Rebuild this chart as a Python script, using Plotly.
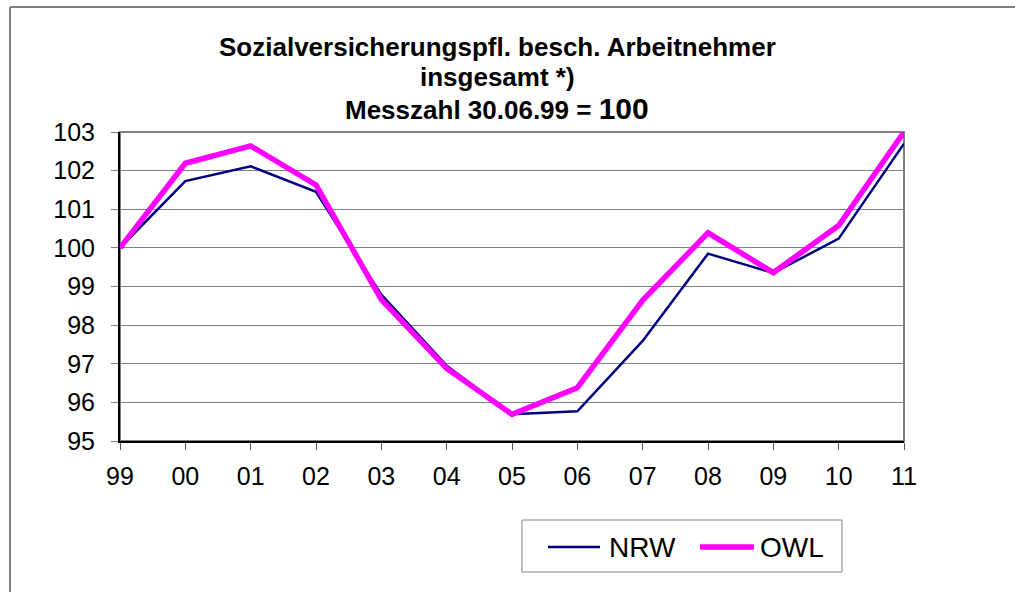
import plotly.graph_objects as go

years = ["99", "00", "01", "02", "03", "04", "05", "06", "07", "08", "09", "10", "11"]
nrw = [100.0, 101.73, 102.11, 101.45, 98.79, 96.95, 95.69, 95.77, 97.59, 99.85, 99.35, 100.24, 102.70]
owl = [100.0, 102.19, 102.64, 101.63, 98.66, 96.88, 95.69, 96.38, 98.64, 100.39, 99.36, 100.58, 103.0]
y_ticks = [95, 96, 97, 98, 99, 100, 101, 102, 103]
series_names = ["NRW", "OWL"]
series_colors = ["#000080", "#FF00FF"]
series_widths = [2.5, 5.5]

title_lines = ["Sozialversicherungspfl. besch. Arbeitnehmer",
               "insgesamt *)",
               "Messzahl 30.06.99 = <span style='font-size:30px'>100</span>"]

W, H = 1015, 592
L, R, T, B = 120, 904, 132, 441
FONT = "Liberation Sans, Arial, sans-serif"

fig = go.Figure()
for name, vals, col, wd in zip(series_names, [nrw, owl], series_colors, series_widths):
    fig.add_trace(go.Scatter(x=years, y=vals, mode="lines", name=name,
                             line=dict(color=col, width=wd), showlegend=False,
                             hoverinfo="skip"))

def py(p):
    return (B - p) / (B - T)

def px(p):
    return (p - L) / (R - L)

annotations = []
for txt, yc in zip(title_lines, [47, 77, 108]):
    annotations.append(dict(text="<b>" + txt + "</b>", xref="paper", yref="paper",
                            x=px(497), y=py(yc), xanchor="center", yanchor="middle",
                            showarrow=False, font=dict(family=FONT, size=26, color="black")))

shapes = [
    # outer chart frame (top and left edges visible)
    dict(type="line", xref="paper", yref="paper", x0=px(10), x1=px(W), y0=py(7), y1=py(7),
         line=dict(color="#808080", width=2), layer="below"),
    dict(type="line", xref="paper", yref="paper", x0=px(10), x1=px(10), y0=py(7), y1=py(H),
         line=dict(color="#808080", width=2), layer="below"),
    # plot area frame
    dict(type="rect", xref="paper", yref="paper", x0=0, x1=1, y0=0, y1=1,
         line=dict(color="#808080", width=2), layer="below"),
    # legend box
    dict(type="rect", xref="paper", yref="paper", x0=px(522), x1=px(842), y0=py(520), y1=py(572),
         line=dict(color="#808080", width=1), fillcolor="white", layer="above"),
]

# legend entries
leg_y = 547
leg_items = [(548, 600, 607), (700, 754, 758)]
for (lx0, lx1, tx), name, col, wd in zip(leg_items, series_names, series_colors, series_widths):
    shapes.append(dict(type="line", xref="paper", yref="paper", x0=px(lx0), x1=px(lx1),
                       y0=py(leg_y), y1=py(leg_y), line=dict(color=col, width=wd), layer="above"))
    annotations.append(dict(text=name, xref="paper", yref="paper", x=px(tx), y=py(leg_y),
                            xanchor="left", yanchor="middle", showarrow=False,
                            font=dict(family=FONT, size=28, color="black")))

fig.update_layout(
    width=W, height=H,
    margin=dict(l=L, r=W - R, t=T, b=H - B, pad=0),
    paper_bgcolor="white", plot_bgcolor="white",
    font=dict(family=FONT, color="black"),
    showlegend=False,
    hovermode=False,
    annotations=annotations,
    shapes=shapes,
    xaxis=dict(type="category", range=[0, len(years) - 1], showgrid=False,
               showline=True, linecolor="black", linewidth=2,
               ticks="outside", ticklen=7, tickcolor="#555555", tickwidth=1,
               tickfont=dict(family=FONT, size=25, color="black"),
               ticklabelstandoff=5, zeroline=False),
    yaxis=dict(range=[95, 103], tickvals=y_ticks, showgrid=True, gridcolor="#808080", gridwidth=1,
               showline=True, linecolor="black", linewidth=2,
               ticks="outside", ticklen=7, tickcolor="#808080", tickwidth=1,
               tickfont=dict(family=FONT, size=25, color="black"),
               ticklabelstandoff=11, zeroline=False),
)

fig.write_html("out.html", config={"displayModeBar": False},
               post_script="document.body.style.margin='0';"
                           "document.documentElement.style.overflow='hidden';")
